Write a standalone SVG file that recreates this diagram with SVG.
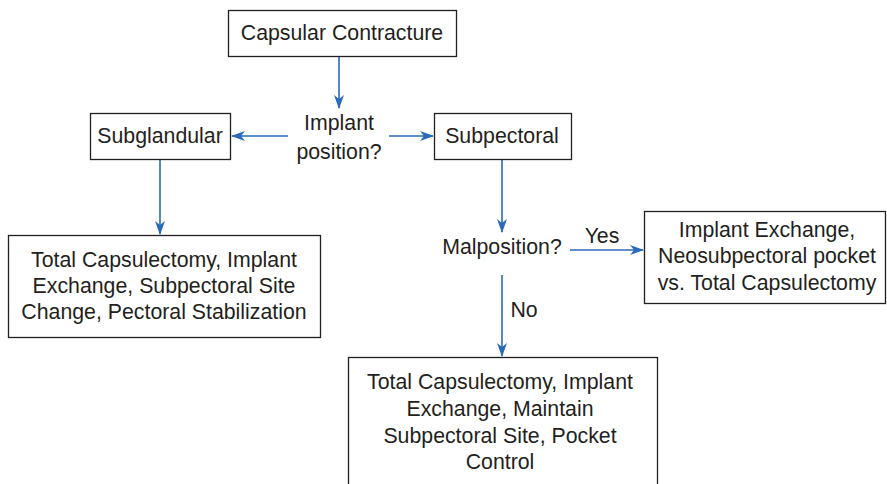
<svg xmlns="http://www.w3.org/2000/svg" width="887" height="484" viewBox="0 0 887 484">
<defs>
<marker id="ah" markerWidth="14" markerHeight="10" refX="13" refY="5" orient="auto" markerUnits="userSpaceOnUse">
<path d="M0,0 L14,5 L0,10 L4,5 Z" fill="#2a6ab8"/>
</marker>
<style>
.box{fill:#fff;stroke:#231f20;stroke-width:1.3}
.t{font-family:"Liberation Sans",Arial,sans-serif;font-size:21.3px;fill:#231f20;text-anchor:middle}
.c{stroke:#2a6ab8;stroke-width:1.6;fill:none;marker-end:url(#ah)}
</style>
</defs>
<rect width="887" height="484" fill="#fff"/>
<g id="connectors">
<line class="c" x1="339" y1="56" x2="339" y2="108"/>
<line class="c" x1="288" y1="136" x2="232" y2="136"/>
<line class="c" x1="389" y1="136" x2="433" y2="136"/>
<line class="c" x1="160" y1="159" x2="160" y2="234"/>
<line class="c" x1="502" y1="159" x2="502" y2="232"/>
<line class="c" x1="570" y1="250" x2="643" y2="250"/>
<line class="c" x1="502" y1="275" x2="502" y2="356"/>
<text class="t" x="602" y="243">Yes</text>
<text class="t" x="524" y="317">No</text>
</g>
<g id="capsular">
<rect class="box" x="228.5" y="10.5" width="228" height="46"/>
<text class="t" x="342" y="40">Capsular Contracture</text>
</g>
<g id="implant-position">
<text class="t" x="339" y="130">Implant</text>
<text class="t" x="339" y="159">position?</text>
</g>
<g id="subglandular">
<rect class="box" x="90.5" y="113.5" width="140" height="46"/>
<text class="t" x="160" y="143">Subglandular</text>
</g>
<g id="subpectoral">
<rect class="box" x="434.5" y="113.5" width="137" height="46"/>
<text class="t" x="502" y="143">Subpectoral</text>
</g>
<g id="left-result">
<rect class="box" x="8.5" y="235.5" width="312" height="102"/>
<text class="t" x="164" y="267">Total Capsulectomy, Implant</text>
<text class="t" x="164" y="293">Exchange, Subpectoral Site</text>
<text class="t" x="164" y="319">Change, Pectoral Stabilization</text>
</g>
<g id="malposition">
<text class="t" x="502" y="254">Malposition?</text>
</g>
<g id="right-result">
<rect class="box" x="644.5" y="211.5" width="241" height="92"/>
<text class="t" x="767" y="237">Implant Exchange,</text>
<text class="t" x="767" y="263">Neosubpectoral pocket</text>
<text class="t" x="767" y="290">vs. Total Capsulectomy</text>
</g>
<g id="bottom-result">
<rect class="box" x="348.5" y="357.5" width="309" height="140"/>
<text class="t" x="500" y="389">Total Capsulectomy, Implant</text>
<text class="t" x="500" y="416">Exchange, Maintain</text>
<text class="t" x="500" y="443">Subpectoral Site, Pocket</text>
<text class="t" x="500" y="469">Control</text>
</g>
</svg>
